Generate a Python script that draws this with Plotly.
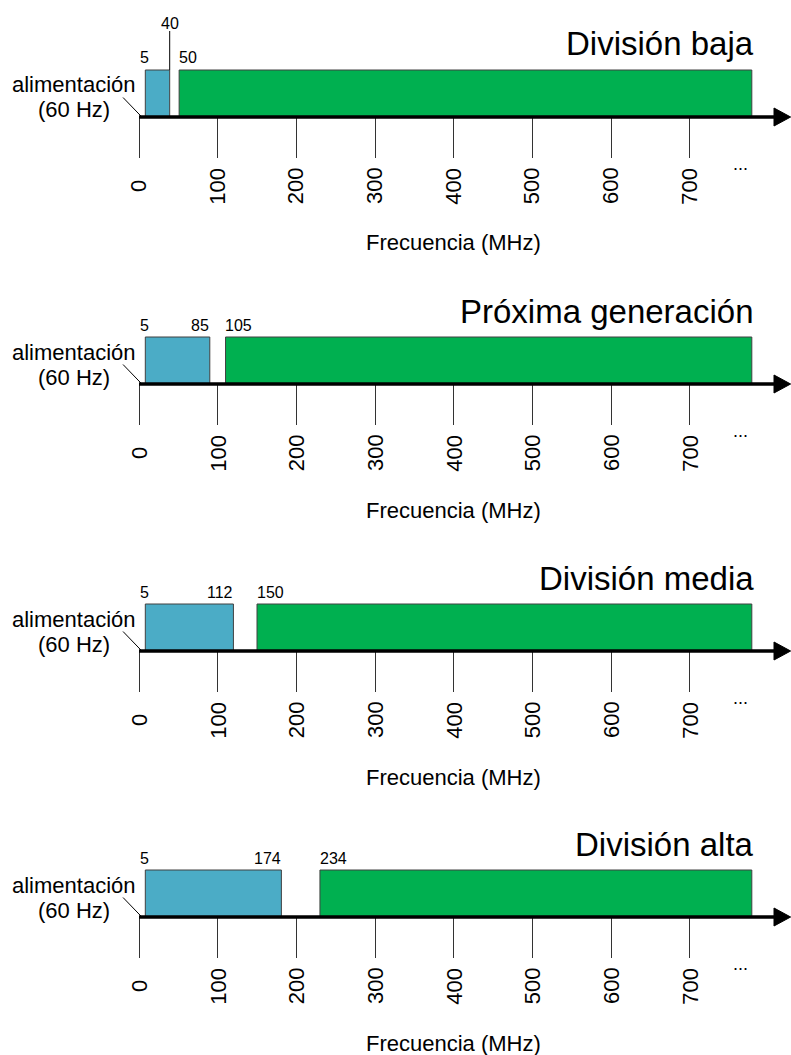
import plotly.graph_objects as go

# ---------------- data ----------------
titles = ["División baja", "Próxima generación", "División media", "División alta"]
up_start = [8, 8, 8, 8]            # drawn start of upstream band (MHz)
up_end = [39, 90, 120, 181]        # drawn end of upstream band (MHz)
down_start = [51, 110, 150, 230]   # drawn start of downstream band (MHz)
down_end = [779, 779, 779, 779]    # drawn end of downstream band (MHz)
up_start_labels = ["5", "5", "5", "5"]
up_end_labels = ["40", "85", "112", "174"]
down_start_labels = ["50", "105", "150", "234"]
tick_vals = [0, 100, 200, 300, 400, 500, 600, 700]
tick_text = ["0", "100", "200", "300", "400", "500", "600", "700"]
axis_title = "Frecuencia (MHz)"
power_label = ["alimentación", "(60 Hz)"]

# ---------------- style ----------------
W, H = 791, 1055
FONT = "Liberation Sans, Arial, Helvetica, sans-serif"
BLUE = "#4BACC6"
GREEN = "#00B050"
EDGE = "#404040"
X_RANGE = [-176.7, 828.8]
MHZ_PER_PX = (X_RANGE[1] - X_RANGE[0]) / W
AXIS_PX = [117, 384, 651, 917]
Y_BELOW, Y_ABOVE = 138, 110
BAR_H = 47

fig = go.Figure()
annotations = []
shapes = []
layout_axes = {}


def ann(xr, yr, x, y, text, size, xanchor="center", yanchor="middle", angle=0):
    annotations.append(dict(
        xref=xr, yref=yr, x=x, y=y, text=text, showarrow=False,
        xanchor=xanchor, yanchor=yanchor, textangle=angle,
        font=dict(family=FONT, size=size, color="black")))


for i in range(4):
    n = "" if i == 0 else str(i + 1)
    xr, yr = "x" + n, "y" + n
    ap = AXIS_PX[i]
    ydom = [1 - (ap + Y_BELOW) / H, 1 - (ap - Y_ABOVE) / H]

    fig.add_trace(go.Bar(
        x=[up_end[i] - up_start[i], down_end[i] - down_start[i]],
        base=[up_start[i], down_start[i]],
        y=[BAR_H / 2, BAR_H / 2], width=[BAR_H, BAR_H], orientation="h",
        marker=dict(color=[BLUE, GREEN], line=dict(color=EDGE, width=1)),
        xaxis=xr, yaxis=yr, hoverinfo="skip", showlegend=False))

    layout_axes["xaxis" + n] = dict(
        domain=[0, 1], range=X_RANGE, anchor="free", position=1 - ap / H,
        ticks="outside", ticklen=40, tickwidth=1, tickcolor="#333333",
        tickvals=tick_vals, showticklabels=False, showline=False,
        showgrid=False, zeroline=False, fixedrange=True)
    layout_axes["yaxis" + n] = dict(
        domain=ydom, range=[-Y_BELOW, Y_ABOVE], visible=False, fixedrange=True,
        anchor=xr)

    # axis line with arrow
    x_arrow_base = (774 - 139) * MHZ_PER_PX
    shapes.append(dict(type="line", xref=xr, yref=yr, x0=0, x1=x_arrow_base,
                       y0=0, y1=0, line=dict(color="black", width=3.5), layer="above"))
    shapes.append(dict(type="path", xref=xr, yref=yr,
                       path=f"M {x_arrow_base:.1f},9 L {X_RANGE[1] - 0.5:.1f},0 L {x_arrow_base:.1f},-9 Z",
                       fillcolor="black", line=dict(color="black", width=1), layer="above"))
    # leader line for power label
    shapes.append(dict(type="line", xref=xr, yref=yr, x0=-20.3, y0=19.5, x1=3, y1=0.5,
                       line=dict(color="black", width=1), layer="above"))

    # tick labels
    for v, t in zip(tick_vals, tick_text):
        ann(xr, yr, v, -69, t, 22, angle=-90)
    ann(xr, yr, 764, -47, "...", 18)
    ann(xr, yr, 400, -126, axis_title, 22)

    # power label
    ann(xr, yr, -82.6, 32, power_label[0], 22)
    ann(xr, yr, -82.6, 7, power_label[1], 22)

    # panel title
    ann(xr, yr, 784, 73, titles[i], 33, xanchor="right")

    # band edge labels
    ann(xr, yr, up_start[i] - 1, 59, up_start_labels[i], 16)
    if i == 0:
        shapes.append(dict(type="line", xref=xr, yref=yr, x0=up_end[i], x1=up_end[i],
                           y0=BAR_H, y1=86, line=dict(color="black", width=1), layer="above"))
        ann(xr, yr, up_end[i] + 1, 93.5, up_end_labels[i], 16)
    else:
        ann(xr, yr, up_end[i] + 2, 59, up_end_labels[i], 16, xanchor="right")
    ann(xr, yr, down_start[i] - 3, 59, down_start_labels[i], 16, xanchor="left")

fig.update_layout(
    width=W, height=H, margin=dict(l=0, r=0, t=0, b=0),
    paper_bgcolor="white", plot_bgcolor="rgba(0,0,0,0)",
    barmode="overlay", showlegend=False,
    annotations=annotations, shapes=shapes,
    font=dict(family=FONT),
    **layout_axes)

fig.write_html("out.html", config={"displayModeBar": False},
               post_script="document.body.style.margin='0';")
